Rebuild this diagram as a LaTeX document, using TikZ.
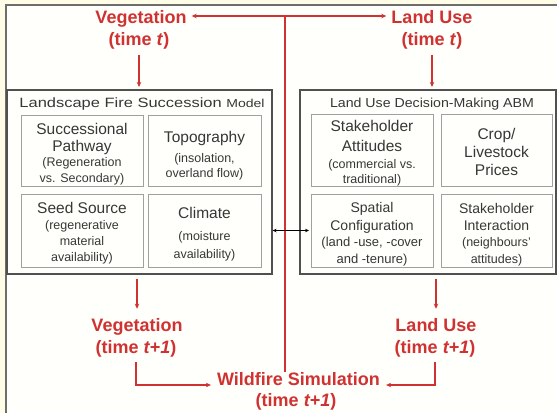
\documentclass[tikz,border=0pt]{standalone}
\usepackage{fontspec}
\setmainfont{Liberation Sans}
\usetikzlibrary{arrows.meta,calc}
\definecolor{cream}{RGB}{255,253,230}
\definecolor{panel}{RGB}{255,255,251}
\definecolor{framec}{RGB}{110,110,110}
\definecolor{vred}{RGB}{208,50,50}
\definecolor{txtg}{RGB}{55,55,55}
\definecolor{bigedge}{RGB}{80,80,80}
\definecolor{smalledge}{RGB}{160,160,160}
\newcommand\bxbig{\fontsize{15.5}{16.5}\selectfont}
\newcommand\bxsmall{\fontsize{12.5}{13.5}\selectfont}
\newcommand\bxmid{\fontsize{14}{16.5}\selectfont}
\newcommand\bxmids{\fontsize{13}{14}\selectfont}
\begin{document}
\begin{tikzpicture}[x=1pt,y=-1pt,
  redlbl/.style={text=vred,font=\fontsize{18}{22}\selectfont\bfseries,inner sep=0pt,anchor=base},
  redarrow/.style={draw=vred,line width=1.2pt,-{Stealth[length=5pt,width=4.5pt]}},
  redboth/.style={draw=vred,line width=1.2pt,{Stealth[length=5pt,width=4.5pt]}-{Stealth[length=5pt,width=4.5pt]}},
  redline/.style={draw=vred,line width=1.2pt},
  blkarrow/.style={draw=black,line width=0.8pt,{Stealth[length=4pt,width=3.5pt]}-{Stealth[length=4pt,width=3.5pt]}},
  bigbox/.style={draw=bigedge,line width=1.1pt,inner sep=0pt},
  subbox/.style={draw=smalledge,line width=0.9pt,inner sep=0pt},
  boxtext/.style={text=txtg,align=center,font=\bxbig,inner sep=0pt},
  boxtitle/.style={text=txtg,inner sep=0pt,anchor=base}
]
\useasboundingbox (0,0) rectangle (557,413);
\fill[cream] (0,0) rectangle (557,413);
\fill[panel] (6,5) rectangle (557,413);
\draw[framec,line width=1.5pt] (6,413) -- (6,5) -- (557,5);

% big boxes
\node[bigbox,minimum width=265pt,minimum height=184pt] (lfs) at (139.5,182) {};
\node[bigbox,minimum width=256pt,minimum height=184pt] (abm) at (428,182) {};
\node[boxtitle] (lfst) at (142,107) {\scalebox{1.22}[1]{\fontsize{13.5}{14}\selectfont Landscape Fire Succession \fontsize{11.5}{12}\selectfont Model}};
\node[boxtitle] (abmt) at (432,107) {\scalebox{1.09}[1]{\fontsize{13}{14}\selectfont Land Use Decision-Making ABM}};

% inner boxes left
\node[subbox,minimum width=122pt,minimum height=71pt] (sp) at (82,151) {};
\node[boxtext] (sptx) at ([yshift=-3pt]sp.center)
  {Successional\\[1pt]Pathway\\[-2pt]\bxsmall (Regeneration\\[0pt]\bxsmall vs. Secondary)};
\node[subbox,minimum width=113pt,minimum height=71pt] (topo) at (204.5,151) {};
\node[boxtext] (topotx) at ([yshift=-5pt]topo.center)
  {Topography\\[3pt]\bxsmall (insolation,\\[-1pt]\bxsmall overland flow)};
\node[subbox,minimum width=122pt,minimum height=73pt] (seed) at (82,230.5) {};
\node[boxtext] (seedtx) at ([yshift=-2.5pt]seed.center)
  {Seed Source\\[-1pt]\bxsmall (regenerative\\[0pt]\bxsmall material\\[-1pt]\bxsmall availability)};
\node[subbox,minimum width=113pt,minimum height=73pt] (clim) at (204.5,230.5) {};
\node[boxtext] (climtx) at ([yshift=-4pt]clim.center)
  {Climate\\[5pt]\bxsmall (moisture\\[2pt]\bxsmall availability)};

% inner boxes right
\node[subbox,minimum width=122pt,minimum height=72pt] (sa) at (372,150) {};
\node[boxtext] (satx) at ([yshift=-3.5pt]sa.center)
  {Stakeholder\\[3.5pt]Attitudes\\[0pt]\bxsmall (commercial vs.\\[-1pt]\bxsmall traditional)};
\node[subbox,minimum width=111pt,minimum height=72pt] (crop) at (496.5,150) {};
\node[boxtext] (croptx) at ([yshift=-1.5pt]crop.center)
  {Crop/\\[1.5pt]Livestock\\[1.5pt]Prices};
\node[subbox,minimum width=122pt,minimum height=73pt] (sc) at (372,230.5) {};
\node[boxtext] (sctx) at ([yshift=-4pt]sc.center)
  {\bxmid Spatial\\[1pt]\bxmid Configuration\\[0pt]\bxmids (land -use, -cover\\[0pt]\bxmids and -tenure)};
\node[subbox,minimum width=111pt,minimum height=73pt] (si) at (496.5,230.5) {};
\node[boxtext] (sitx) at ([yshift=-4pt]si.center)
  {\bxmid Stakeholder\\[0pt]\bxmid Interaction\\[0pt]\bxsmall (neighbours'\\[0pt]\bxsmall attitudes)};

% red labels
\node[redlbl] (veg0) at (141,23) {Vegetation};
\node[redlbl] (veg0t) at (139,45) {(time \textit{t})};
\node[redlbl] (lu0) at (432,23) {Land Use};
\node[redlbl] (lu0t) at (432,45) {(time \textit{t})};
\node[redlbl] (veg1) at (137,331) {Vegetation};
\node[redlbl] (veg1t) at (136,353) {(time \textit{t+1})};
\node[redlbl] (lu1) at (436,331) {Land Use};
\node[redlbl] (lu1t) at (435,353) {(time \textit{t+1})};
\node[redlbl] (wild) at (298.5,385) {Wildfire Simulation};
\node[redlbl] (wildt) at (296,406) {(time \textit{t+1})};

% connectors
\coordinate (junc) at (285,16);
\draw[redboth,shorten <=5pt,shorten >=5pt] (veg0.east |- junc) -- (lu0.west |- junc);
\draw[redline] (junc) -- (junc |- wild.north);
\draw[redarrow,shorten <=6pt,shorten >=2.5pt] (veg0t.south) -- (veg0t.south |- lfs.north);
\draw[redarrow,shorten <=6pt,shorten >=2.5pt] (lu0t.south) -- (lu0t.south |- abm.north);
\draw[redarrow,shorten <=4pt,shorten >=9pt] (veg1.north |- lfs.south) -- (veg1.north);
\draw[redarrow,shorten <=4pt,shorten >=9pt] (lu1.north |- abm.south) -- (lu1.north);
\draw[redarrow,shorten <=5pt,shorten >=6pt] (veg1t.south) |- (wild.base west);
\draw[redarrow,shorten <=5pt,shorten >=6pt] (lu1t.south) |- (wild.base east);
\draw[blkarrow,shorten >=1.5pt] (lfs.east |- clim.east) -- (sc.west);
\end{tikzpicture}
\end{document}
